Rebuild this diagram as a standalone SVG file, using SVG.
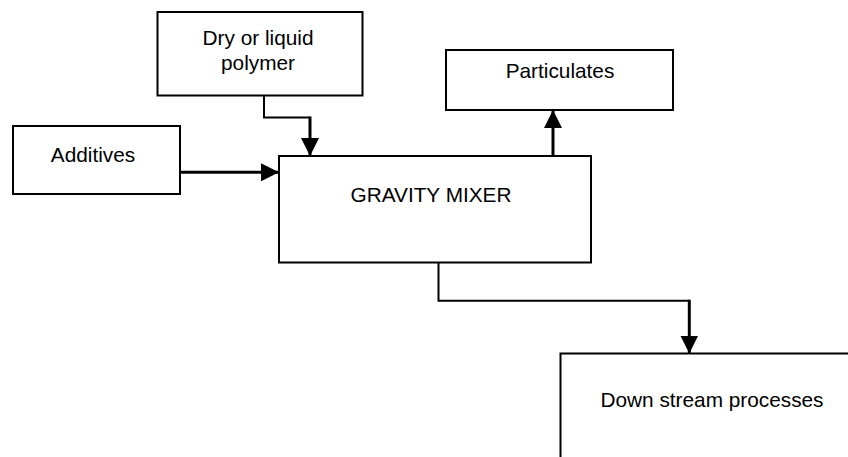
<svg xmlns="http://www.w3.org/2000/svg" width="848" height="457" viewBox="0 0 848 457">
<style>
.box{fill:#fff;stroke:#000;stroke-width:2}
.t{font-family:"Liberation Sans",Arial,sans-serif;font-size:20.8px;fill:#000;text-anchor:middle}
.c{fill:none;stroke:#000;stroke-width:2}
.c3{fill:none;stroke:#000;stroke-width:3}
</style>
<defs>
<marker id="ah" markerUnits="userSpaceOnUse" markerWidth="18" markerHeight="18" viewBox="0 0 16 16" refX="16" refY="8" orient="auto">
<polygon points="0,0 16,8 0,16" fill="#000"/>
</marker>
</defs>
<g id="dry">
<rect class="box" x="157.5" y="12" width="205" height="83.5"/>
<text class="t" x="258" y="45">Dry or liquid</text>
<text class="t" x="258" y="69.5">polymer</text>
</g>
<g id="additives">
<rect class="box" x="13" y="126" width="167" height="68"/>
<text class="t" x="93" y="162">Additives</text>
</g>
<g id="particulates">
<rect class="box" x="446" y="50" width="227" height="60"/>
<text class="t" x="560" y="77.5">Particulates</text>
</g>
<g id="mixer">
<rect class="box" x="279" y="156" width="312" height="106.5"/>
<text class="t" x="431" y="202">GRAVITY MIXER</text>
</g>
<g id="downstream">
<rect class="box" x="560.5" y="353.5" width="320" height="140"/>
<text class="t" x="712" y="407">Down stream processes</text>
</g>
<g id="connectors">
<polyline class="c" points="264,95.5 264,117.5 310,117.5"/>
<polyline class="c3" points="310,116.5 310,156" marker-end="url(#ah)"/>
<polyline class="c3" points="180,172.3 279,172.3" marker-end="url(#ah)"/>
<polyline class="c3" points="553,156 553,110" marker-end="url(#ah)"/>
<polyline class="c" points="438.5,262.5 438.5,300.7 689.3,300.7"/>
<polyline class="c3" points="689.3,299.7 689.3,353.5" marker-end="url(#ah)"/>
</g>
</svg>
